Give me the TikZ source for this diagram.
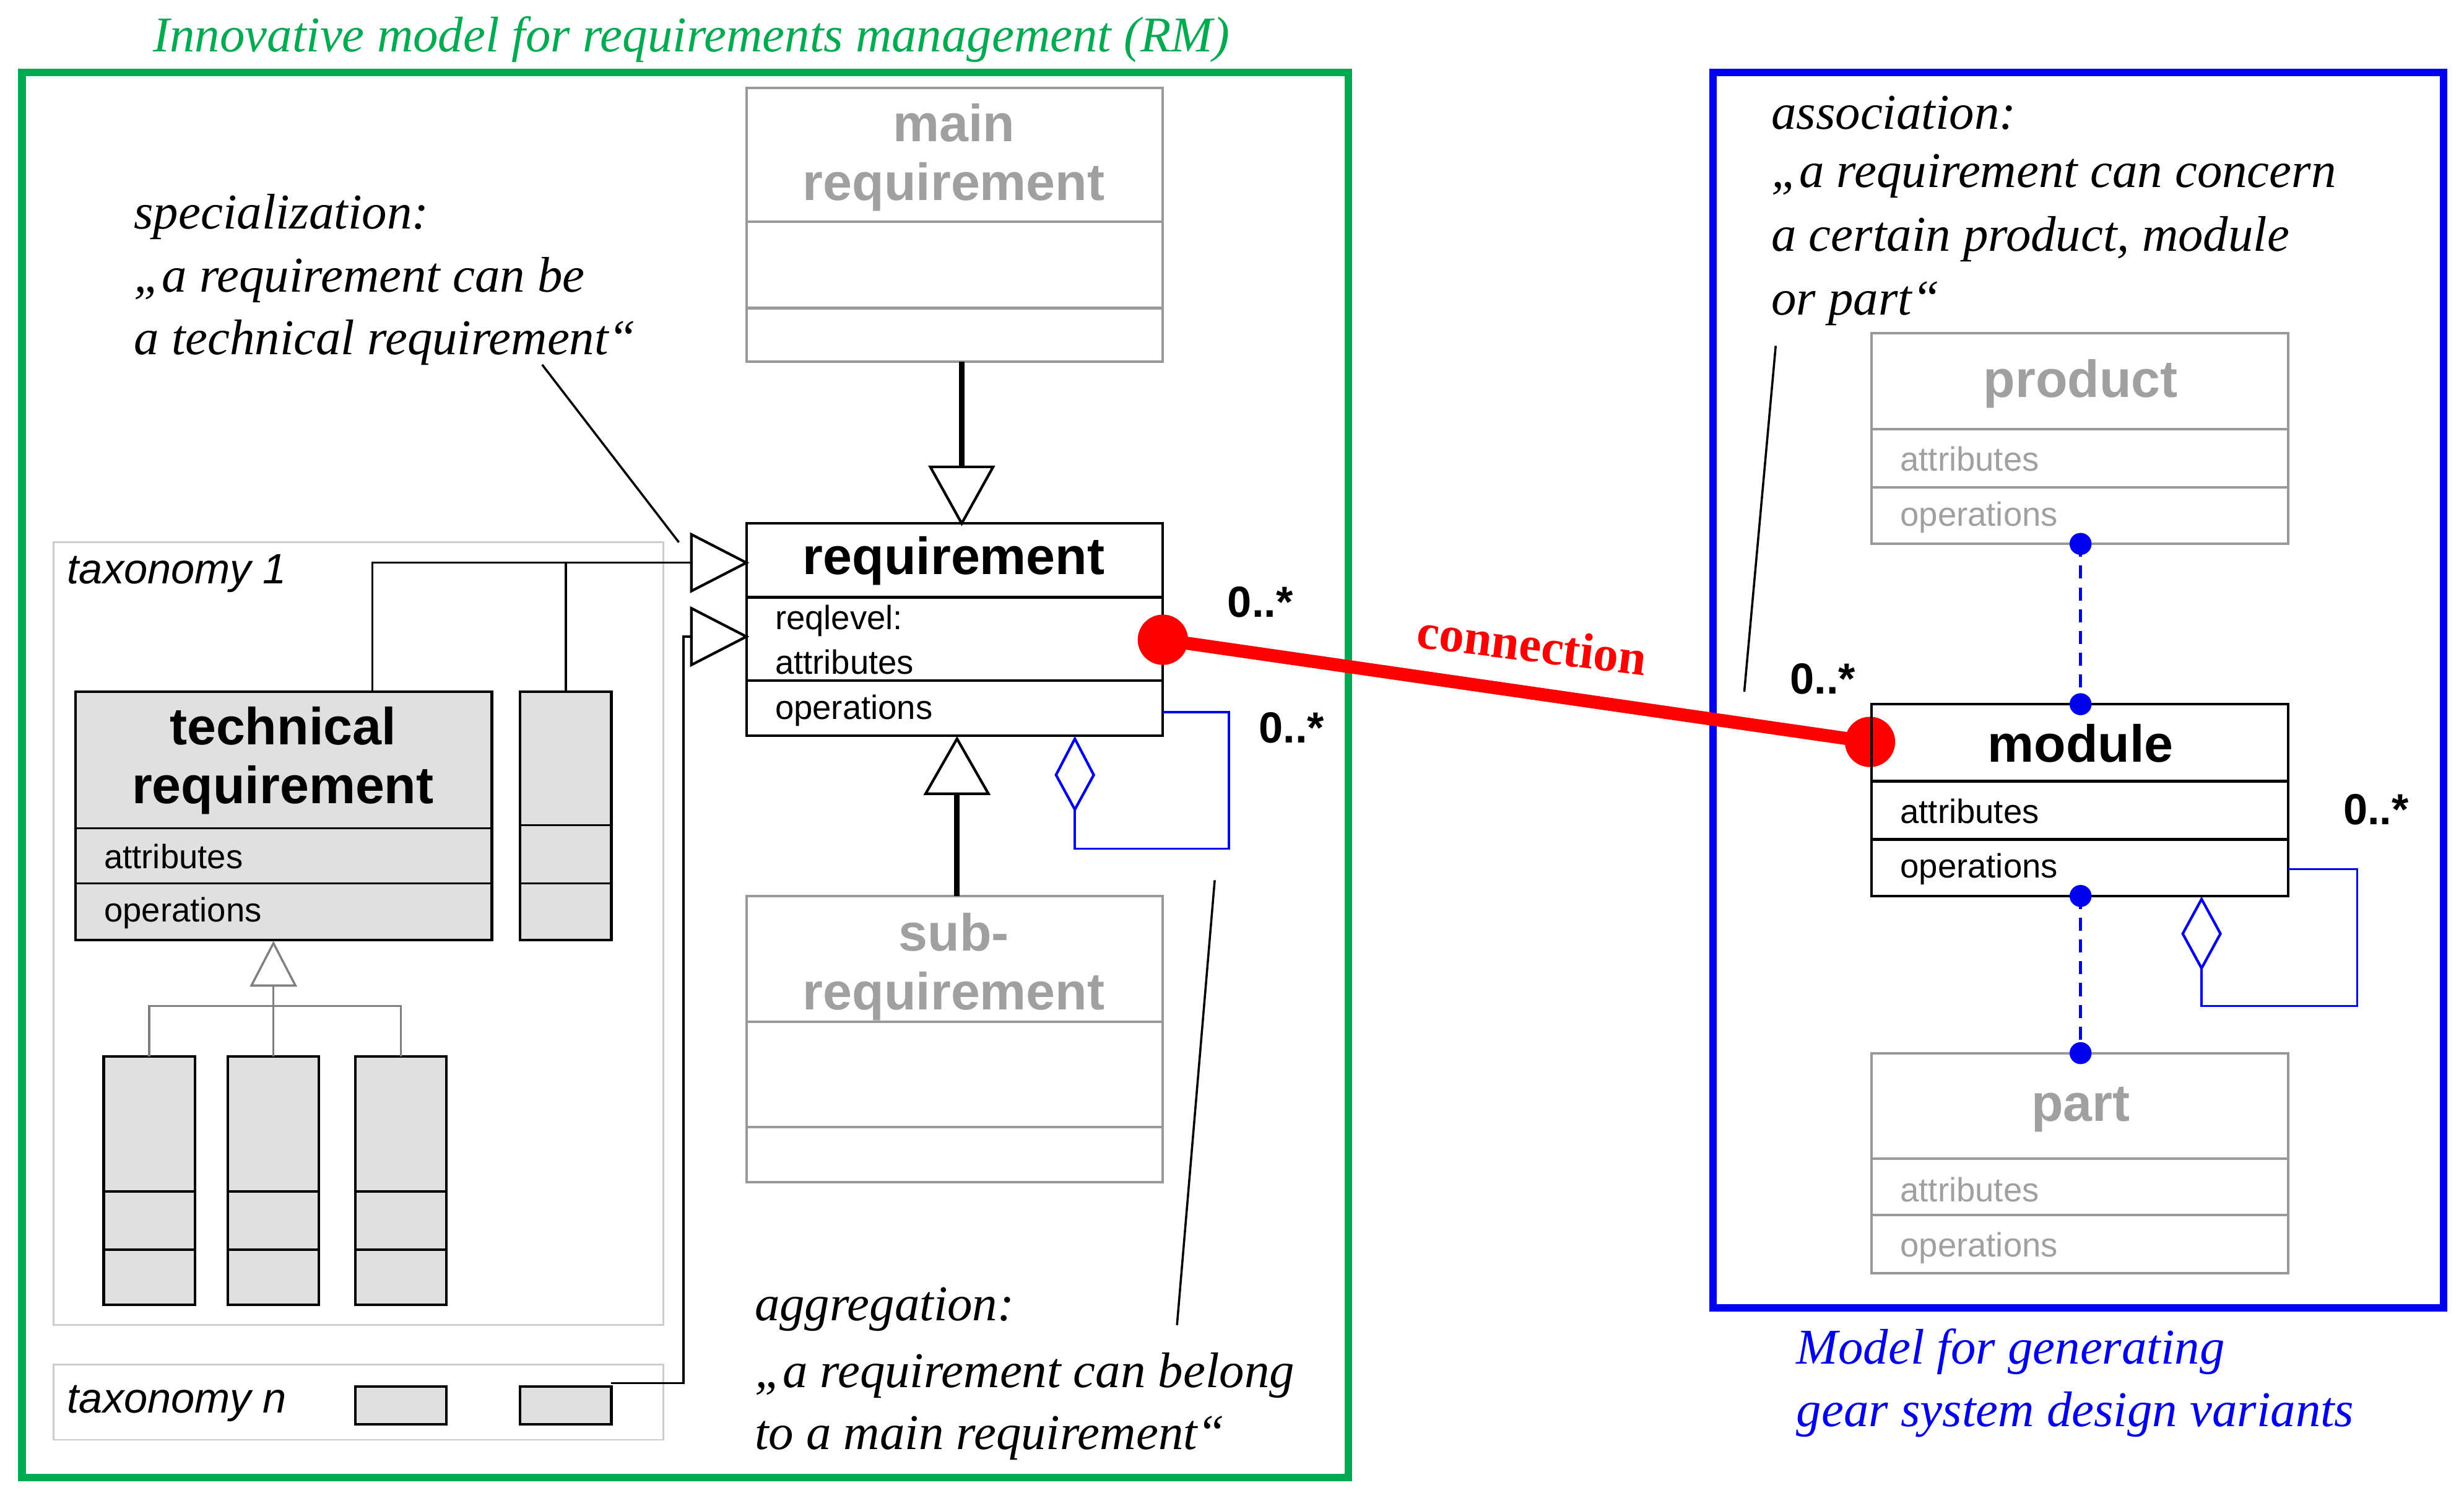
\documentclass[tikz,border=0pt]{standalone}
\usepackage{fontspec}
\setsansfont{Liberation Sans}
\setmainfont{Liberation Serif}
\usetikzlibrary{calc}
\definecolor{grn}{RGB}{0,170,80}
\definecolor{blu}{RGB}{0,0,240}
\definecolor{gtxt}{RGB}{160,160,160}
\definecolor{boxfill}{RGB}{224,224,224}
\begin{document}
\begin{tikzpicture}[x=0.2538mm,y=-0.2538mm,
  box/.style={draw,line width=1.2pt},
  gbox/.style={draw=gray!80,line width=1.2pt},
  fbox/.style={draw,fill=boxfill,line width=1.2pt},
  ann/.style={font=\fontsize{23}{28}\selectfont\itshape,anchor=west,inner sep=0},
  sm/.style={font=\sffamily\fontsize{15.5}{18}\selectfont,anchor=west,inner sep=0},
  big/.style={font=\sffamily\bfseries\fontsize{24}{29}\selectfont,align=center},
  tri/.style={draw,fill=white,line width=1.2pt},
  mult/.style={font=\sffamily\bfseries\fontsize{20}{24}\selectfont},
  blk/.style={line width=1pt}]
\useasboundingbox (0,0) rectangle (1568,953);
% frames
\draw[grn,line width=3.5pt] (14,46) rectangle (858,940);
\draw[blu,line width=3.5pt] (1090,46) rectangle (1555,832);
\node[text=grn,font=\fontsize{23}{26}\selectfont\itshape] (title) at (440,25) {Innovative model for requirements management (RM)};
\node[ann,text=blu] (b1) at (1143,860) {Model for generating};
\node[ann,text=blu] (b2) at (1143,900) {gear system design variants};
% main requirement
\draw[gbox] (475,56) rectangle (740,230) (475,141)--(740,141) (475,196)--(740,196);
\node[big,text=gtxt] (mainreq) at (607,100) {main\\[-2pt]requirement};
% requirement
\draw[box] (475,333) rectangle (740,468) (475,380)--(740,380) (475,433)--(740,433);
\node[big] (req) at (607,357) {requirement};
\node[sm] (rl) at (493,395) {reqlevel:};
\node[sm] (ra) at (493,421) {attributes};
\node[sm] (ro) at (493,452) {operations};
% sub requirement
\draw[gbox] (475,570) rectangle (740,752) (475,650)--(740,650) (475,717)--(740,717);
\node[big,text=gtxt] (subreq) at (607,615) {sub-\\[-2pt]requirement};
% generalization arrows
\coordinate (m1) at (612,230); \coordinate (m2) at (612,297);
\draw[line width=2.5pt] (m1)--(m2);
\draw[tri] (592,297)--(632,297)--(612,333)--cycle;
\coordinate (s1) at (609,570); \coordinate (s2) at (609,505);
\draw[line width=2.5pt] (s1)--(s2);
\draw[tri] (589,505)--(629,505)--(609,470)--cycle;
% aggregation loop requirement
\draw[blu,line width=1pt] (684,515)--(684,540)--(782,540)--(782,453)--(740,453);
\draw[blu,fill=white,line width=1.2pt] (684,470)--(696,493)--(684,515)--(672,493)--cycle;
\node[mult] (m01a) at (802,383) {0..*};
\node[mult] (m01b) at (822,463) {0..*};
% connection
\coordinate (c1) at (740,407); \coordinate (c2) at (1190,472);
\draw[red,line width=6pt] (c1)--(c2);
\fill[red] (c1) circle (16); \fill[red] (c2) circle (16);
\node[red,font=\bfseries\fontsize{23}{26}\selectfont,rotate=-7] (conn) at (975,410) {connection};
\node[mult] (m01c) at (1160,432) {0..*};
\node[mult] (m01d) at (1512,515) {0..*};
% taxonomy 1
\draw[draw=gray!40,line width=0.8pt] (34,345) rectangle (422,843);
\node[font=\sffamily\itshape\fontsize{19.5}{22}\selectfont,anchor=west] (tx1) at (38,365) {taxonomy 1};
\draw[fbox] (48,440) rectangle (313,598); \draw[blk] (48,527)--(313,527) (48,562)--(313,562);
\node[big] (techreq) at (180,484) {technical\\[-2pt]requirement};
\node[sm] (ta) at (66,545) {attributes};
\node[sm] (to) at (66,581) {operations};
\draw[fbox] (331,440) rectangle (389,598); \draw[blk] (331,525)--(389,525) (331,562)--(389,562);
\foreach \x in {66,145,226}{\draw[fbox] (\x,672) rectangle ++(58,158); \draw[blk] (\x,758)--++(58,0) (\x,795)--++(58,0);}
\draw[gray,line width=1pt] (174,627)--(174,672) (95,672)--(95,640)--(255,640)--(255,672);
\draw[gray,fill=white,line width=1pt] (160,627)--(188,627)--(174,600)--cycle;
% taxonomy n
\draw[draw=gray!40,line width=0.8pt] (34,868) rectangle (422,916);
\node[font=\sffamily\itshape\fontsize{19.5}{22}\selectfont,anchor=west] (txn) at (38,893) {taxonomy n};
\draw[fbox] (226,882) rectangle (284,906);
\draw[fbox] (331,882) rectangle (389,906);
% specialization links
\draw[blk] (237,440)--(237,358)--(440,358) (360,440)--(360,358);
\draw[blk] (389,880)--(435,880)--(435,405)--(440,405);
\draw[tri] (440,340)--(440,376)--(475,358)--cycle;
\draw[tri] (440,387)--(440,423)--(475,405)--cycle;
% annotations
\node[ann] (sp1) at (85,138) {specialization:};
\node[ann] (sp2) at (85,178) {„a requirement can be};
\node[ann] (sp3) at (85,218) {a technical requirement“};
\coordinate (sa) at (345,232); \coordinate (sb) at (432,345); \draw[blk] (sa)--(sb);
\node[ann] (ag1) at (480,833) {aggregation:};
\node[ann] (ag2) at (480,875) {„a requirement can belong};
\node[ann] (ag3) at (480,915) {to a main requirement“};
\coordinate (aa) at (749,843); \coordinate (ab) at (773,560); \draw[blk] (aa)--(ab);
\node[ann] (as1) at (1127,72) {association:};
\node[ann] (as2) at (1127,112) {„a requirement can concern};
\node[ann] (as3) at (1127,152) {a certain product, module};
\node[ann] (as4) at (1127,193) {or part“};
\coordinate (xa) at (1130,220); \coordinate (xb) at (1110,440); \draw[blk] (xa)--(xb);
% product
\draw[gbox] (1191,212) rectangle (1456,346) (1191,273)--(1456,273) (1191,310)--(1456,310);
\node[big,text=gtxt] (prod) at (1324,244) {product};
\node[sm,text=gtxt] (pa) at (1209,292) {attributes};
\node[sm,text=gtxt] (po) at (1209,329) {operations};
% module
\draw[box] (1191,448) rectangle (1456,570) (1191,497)--(1456,497) (1191,534)--(1456,534);
\node[big] (mod) at (1324,473) {module};
\node[sm] (ma) at (1209,516) {attributes};
\node[sm] (mo) at (1209,553) {operations};
% part
\draw[gbox] (1191,670) rectangle (1456,810) (1191,737)--(1456,737) (1191,773)--(1456,773);
\node[big,text=gtxt] (part) at (1324,706) {part};
\node[sm,text=gtxt] (pta) at (1209,757) {attributes};
\node[sm,text=gtxt] (pto) at (1209,794) {operations};
% blue dashed
\coordinate (d1) at (1324,346); \coordinate (d2) at (1324,448);
\coordinate (d3) at (1324,570); \coordinate (d4) at (1324,670);
\draw[blu,line width=1.5pt,dash pattern=on 6pt off 4pt] (d1)--(d2) (d3)--(d4);
\foreach \p in {d1,d2,d3,d4}\fill[blu] (\p) circle (7);
% module aggregation
\draw[blu,line width=1pt] (1401,616)--(1401,640)--(1500,640)--(1500,553)--(1456,553);
\draw[blu,fill=white,line width=1.2pt] (1401,572)--(1413,594)--(1401,616)--(1389,594)--cycle;
\end{tikzpicture}
\end{document}
